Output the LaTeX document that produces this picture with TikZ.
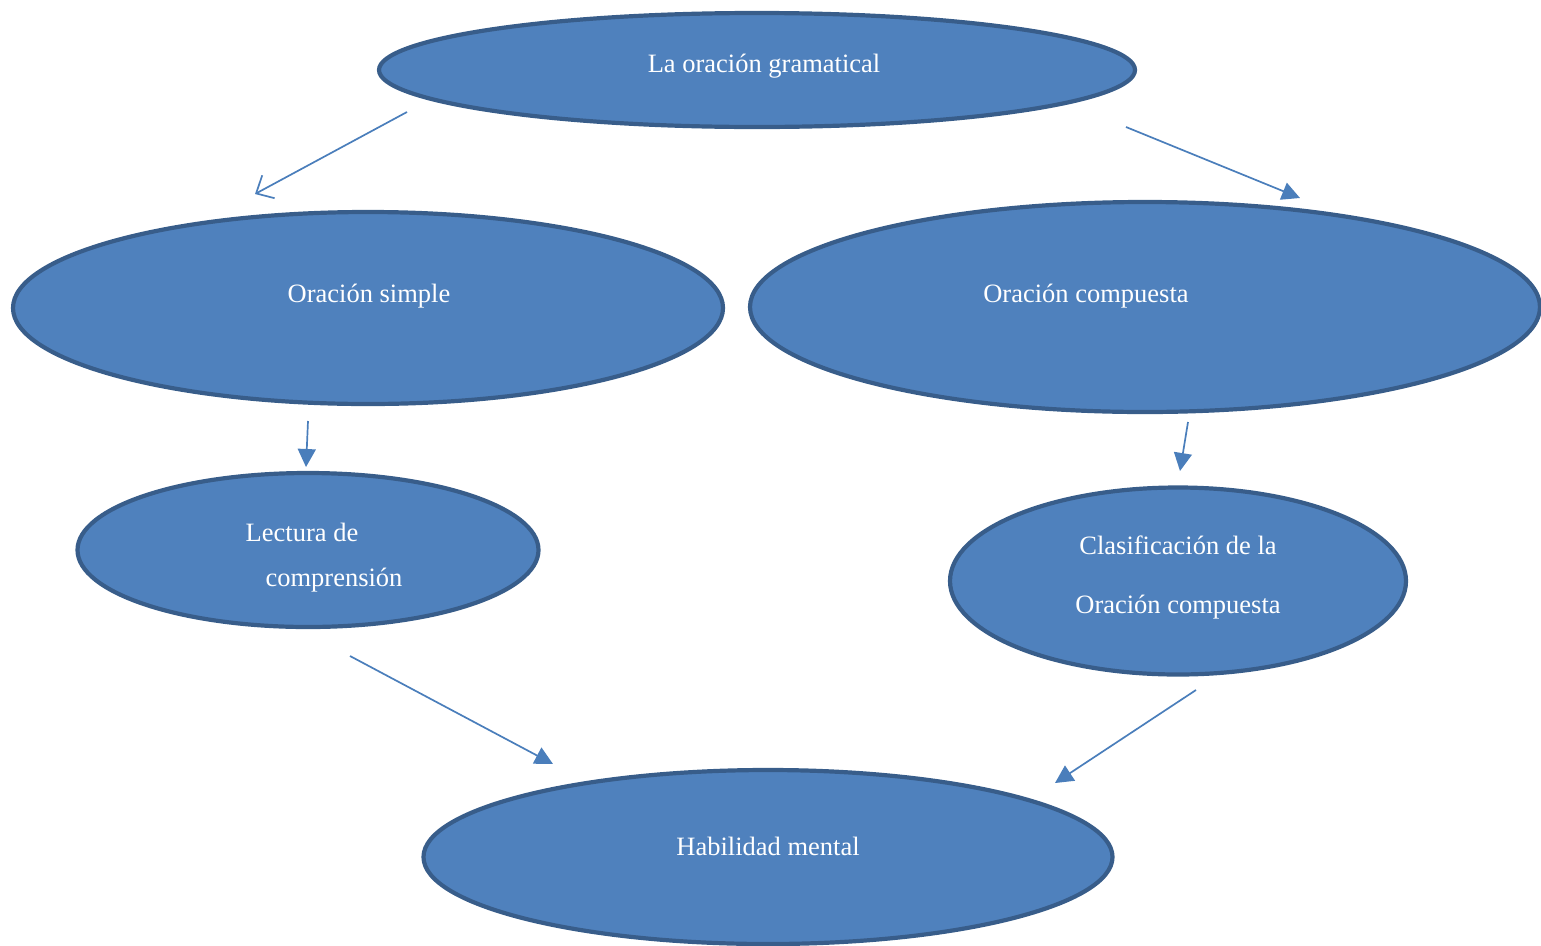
\documentclass[tikz,border=0pt]{standalone}
\usepackage{fontspec}
\setmainfont{Liberation Serif}
\usetikzlibrary{shapes.geometric,arrows.meta}
\definecolor{fillblue}{HTML}{4F81BD}
\definecolor{edgeblue}{HTML}{385D8A}
\definecolor{arrowblue}{HTML}{4A7EBB}
\begin{document}
\begin{tikzpicture}[x=1pt,y=-1pt,
  oval/.style={ellipse,fill=fillblue,draw=edgeblue,line width=4.2pt,inner sep=0pt},
  lbl/.style={text=white,font=\fontsize{26.5}{32}\selectfont,inner sep=0pt,anchor=center},
  conn/.style={draw=arrowblue,line width=1.7pt},
  solidtip/.style={-{Triangle[length=18pt,width=18pt]}},
  opentip/.style={-{Straight Barb[length=14pt,width=26pt,line width=1.7pt]}}]
\useasboundingbox (0,0) rectangle (1541,945);
\node[oval,minimum width=756pt,minimum height=114pt] (top) at (757,70) {};
\node[oval,minimum width=710pt,minimum height=192pt] (simple) at (368,308) {};
\node[oval,minimum width=790pt,minimum height=210pt] (comp) at (1145,307) {};
\node[oval,minimum width=461pt,minimum height=154pt] (lect) at (308,550) {};
\node[oval,minimum width=456pt,minimum height=187pt] (clas) at (1178,581) {};
\node[oval,minimum width=689pt,minimum height=174pt] (hab) at (768,857) {};
\node[lbl] (ttop) at (764,66) {La oración gramatical};
\node[lbl] (tsimple) at (369,296) {Oración simple};
\node[lbl] (tcomp) at (1086,296) {Oración compuesta};
\node[lbl] (tlect1) at (302,532) {Lectura de};
\node[lbl] (tlect2) at (334,580) {comprensión};
\node[lbl] (tclas1) at (1178,545) {Clasificación de la};
\node[lbl] (tclas2) at (1178,607) {Oración compuesta};
\node[lbl] (thab) at (768,846) {Habilidad mental};
\coordinate (a1s) at (407,112); \coordinate (a1e) at (255,194);
\coordinate (a2s) at (1126,127); \coordinate (a2e) at (1300,198);
\coordinate (a3s) at (308,421); \coordinate (a3e) at (306,467);
\coordinate (a4s) at (1188,422); \coordinate (a4e) at (1180,471);
\coordinate (a5s) at (350,656); \coordinate (a5e) at (553,764);
\coordinate (a6s) at (1196,690); \coordinate (a6e) at (1055,783);
\draw[conn,opentip] (a1s) -- (a1e);
\draw[conn,solidtip] (a2s) -- (a2e);
\draw[conn,solidtip] (a3s) -- (a3e);
\draw[conn,solidtip] (a4s) -- (a4e);
\draw[conn,solidtip] (a5s) -- (a5e);
\draw[conn,solidtip] (a6s) -- (a6e);
\end{tikzpicture}
\end{document}
